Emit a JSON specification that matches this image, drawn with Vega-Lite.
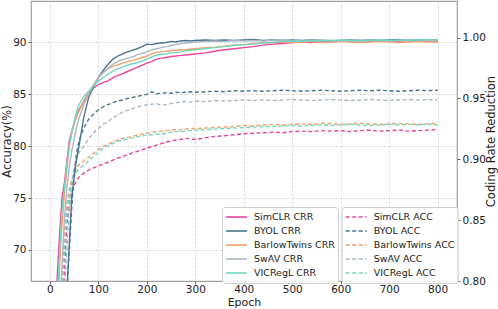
{
"$schema": "https://vega.github.io/schema/vega-lite/v6.json",
"width": 426, "height": 280,
"autosize": {"type": "none"},
"padding": {"left": 31, "top": 1, "right": 41, "bottom": 28},
"config": {
 "font": "DejaVu Sans",
 "view": {"stroke": "#a0a0a0", "strokeWidth": 1.2},
 "axis": {"labelFont": "DejaVu Sans", "labelFontSize": 10.5, "labelColor": "#222222", "titleFont": "DejaVu Sans", "titleFontSize": 11.5, "titleFontWeight": "normal", "titleColor": "#222222", "tickColor": "#666666", "tickSize": 3, "labelPadding": 2, "domain": false, "gridColor": "#cccccc", "gridDash": [2, 2], "gridWidth": 0.8},
 "legend": {"labelFont": "DejaVu Sans", "labelFontSize": 9.5, "labelColor": "#222222", "symbolType": "stroke", "symbolSize": 441, "symbolStrokeWidth": 1.6, "fillColor": "rgba(255,255,255,0.85)", "strokeColor": "#d0d0d0", "cornerRadius": 3, "padding": 3, "rowPadding": 0, "clipHeight": 14, "labelOffset": 6}
},
"datasets": {
"crr": [
{"e":1,"SimCLR":0.6126,"BYOL":0.5700,"BarlowTwins":0.6041,"SwAV":0.5870,"VICRegL":0.6041},
{"e":10,"SimCLR":0.7404,"BYOL":0.6381,"BarlowTwins":0.6893,"SwAV":0.6722,"VICRegL":0.7063},
{"e":15,"SimCLR":0.8026,"BYOL":0.6722,"BarlowTwins":0.7574,"SwAV":0.7233,"VICRegL":0.7744},
{"e":20,"SimCLR":0.8383,"BYOL":0.6978,"BarlowTwins":0.8128,"SwAV":0.7744,"VICRegL":0.8256},
{"e":25,"SimCLR":0.8681,"BYOL":0.7233,"BarlowTwins":0.8469,"SwAV":0.8128,"VICRegL":0.8579},
{"e":30,"SimCLR":0.8809,"BYOL":0.7574,"BarlowTwins":0.8724,"SwAV":0.8511,"VICRegL":0.8767},
{"e":35,"SimCLR":0.8980,"BYOL":0.7915,"BarlowTwins":0.8920,"SwAV":0.8767,"VICRegL":0.8954},
{"e":40,"SimCLR":0.9150,"BYOL":0.8298,"BarlowTwins":0.9107,"SwAV":0.8937,"VICRegL":0.9107},
{"e":45,"SimCLR":0.9227,"BYOL":0.8681,"BarlowTwins":0.9218,"SwAV":0.9065,"VICRegL":0.9218},
{"e":50,"SimCLR":0.9295,"BYOL":0.8852,"BarlowTwins":0.9295,"SwAV":0.9167,"VICRegL":0.9312},
{"e":55,"SimCLR":0.9354,"BYOL":0.8997,"BarlowTwins":0.9354,"SwAV":0.9261,"VICRegL":0.9389},
{"e":60,"SimCLR":0.9406,"BYOL":0.9107,"BarlowTwins":0.9397,"SwAV":0.9337,"VICRegL":0.9448},
{"e":70,"SimCLR":0.9474,"BYOL":0.9346,"BarlowTwins":0.9482,"SwAV":0.9448,"VICRegL":0.9516},
{"e":80,"SimCLR":0.9533,"BYOL":0.9508,"BarlowTwins":0.9550,"SwAV":0.9533,"VICRegL":0.9559},
{"e":90,"SimCLR":0.9584,"BYOL":0.9593,"BarlowTwins":0.9610,"SwAV":0.9610,"VICRegL":0.9601},
{"e":100,"SimCLR":0.9614,"BYOL":0.9670,"BarlowTwins":0.9670,"SwAV":0.9670,"VICRegL":0.9644},
{"e":110,"SimCLR":0.9631,"BYOL":0.9729,"BarlowTwins":0.9712,"SwAV":0.9712,"VICRegL":0.9670},
{"e":120,"SimCLR":0.9644,"BYOL":0.9780,"BarlowTwins":0.9746,"SwAV":0.9746,"VICRegL":0.9699},
{"e":130,"SimCLR":0.9670,"BYOL":0.9823,"BarlowTwins":0.9763,"SwAV":0.9780,"VICRegL":0.9721},
{"e":140,"SimCLR":0.9687,"BYOL":0.9848,"BarlowTwins":0.9776,"SwAV":0.9806,"VICRegL":0.9742},
{"e":150,"SimCLR":0.9704,"BYOL":0.9865,"BarlowTwins":0.9789,"SwAV":0.9819,"VICRegL":0.9759},
{"e":160,"SimCLR":0.9721,"BYOL":0.9882,"BarlowTwins":0.9802,"SwAV":0.9831,"VICRegL":0.9772},
{"e":170,"SimCLR":0.9738,"BYOL":0.9895,"BarlowTwins":0.9810,"SwAV":0.9840,"VICRegL":0.9785},
{"e":180,"SimCLR":0.9755,"BYOL":0.9908,"BarlowTwins":0.9823,"SwAV":0.9857,"VICRegL":0.9793},
{"e":190,"SimCLR":0.9772,"BYOL":0.9925,"BarlowTwins":0.9836,"SwAV":0.9870,"VICRegL":0.9806},
{"e":200,"SimCLR":0.9789,"BYOL":0.9946,"BarlowTwins":0.9848,"SwAV":0.9882,"VICRegL":0.9823},
{"e":210,"SimCLR":0.9802,"BYOL":0.9942,"BarlowTwins":0.9865,"SwAV":0.9899,"VICRegL":0.9840},
{"e":220,"SimCLR":0.9823,"BYOL":0.9951,"BarlowTwins":0.9878,"SwAV":0.9908,"VICRegL":0.9857},
{"e":230,"SimCLR":0.9831,"BYOL":0.9955,"BarlowTwins":0.9882,"SwAV":0.9917,"VICRegL":0.9861},
{"e":240,"SimCLR":0.9836,"BYOL":0.9959,"BarlowTwins":0.9887,"SwAV":0.9925,"VICRegL":0.9865},
{"e":250,"SimCLR":0.9844,"BYOL":0.9968,"BarlowTwins":0.9891,"SwAV":0.9934,"VICRegL":0.9874},
{"e":260,"SimCLR":0.9848,"BYOL":0.9963,"BarlowTwins":0.9895,"SwAV":0.9942,"VICRegL":0.9878},
{"e":270,"SimCLR":0.9853,"BYOL":0.9972,"BarlowTwins":0.9899,"SwAV":0.9951,"VICRegL":0.9882},
{"e":280,"SimCLR":0.9857,"BYOL":0.9976,"BarlowTwins":0.9899,"SwAV":0.9955,"VICRegL":0.9891},
{"e":290,"SimCLR":0.9861,"BYOL":0.9972,"BarlowTwins":0.9904,"SwAV":0.9959,"VICRegL":0.9895},
{"e":300,"SimCLR":0.9865,"BYOL":0.9976,"BarlowTwins":0.9908,"SwAV":0.9963,"VICRegL":0.9899},
{"e":320,"SimCLR":0.9874,"BYOL":0.9980,"BarlowTwins":0.9917,"SwAV":0.9968,"VICRegL":0.9908},
{"e":340,"SimCLR":0.9887,"BYOL":0.9976,"BarlowTwins":0.9921,"SwAV":0.9972,"VICRegL":0.9917},
{"e":360,"SimCLR":0.9899,"BYOL":0.9980,"BarlowTwins":0.9929,"SwAV":0.9968,"VICRegL":0.9925},
{"e":380,"SimCLR":0.9908,"BYOL":0.9976,"BarlowTwins":0.9938,"SwAV":0.9976,"VICRegL":0.9934},
{"e":400,"SimCLR":0.9917,"BYOL":0.9980,"BarlowTwins":0.9942,"SwAV":0.9972,"VICRegL":0.9942},
{"e":420,"SimCLR":0.9925,"BYOL":0.9985,"BarlowTwins":0.9951,"SwAV":0.9976,"VICRegL":0.9946},
{"e":440,"SimCLR":0.9938,"BYOL":0.9976,"BarlowTwins":0.9955,"SwAV":0.9972,"VICRegL":0.9955},
{"e":460,"SimCLR":0.9946,"BYOL":0.9980,"BarlowTwins":0.9959,"SwAV":0.9976,"VICRegL":0.9959},
{"e":480,"SimCLR":0.9951,"BYOL":0.9976,"BarlowTwins":0.9963,"SwAV":0.9980,"VICRegL":0.9968},
{"e":500,"SimCLR":0.9959,"BYOL":0.9980,"BarlowTwins":0.9959,"SwAV":0.9976,"VICRegL":0.9972},
{"e":520,"SimCLR":0.9963,"BYOL":0.9976,"BarlowTwins":0.9963,"SwAV":0.9972,"VICRegL":0.9968},
{"e":540,"SimCLR":0.9959,"BYOL":0.9980,"BarlowTwins":0.9968,"SwAV":0.9976,"VICRegL":0.9976},
{"e":560,"SimCLR":0.9968,"BYOL":0.9976,"BarlowTwins":0.9959,"SwAV":0.9980,"VICRegL":0.9972},
{"e":580,"SimCLR":0.9963,"BYOL":0.9972,"BarlowTwins":0.9963,"SwAV":0.9976,"VICRegL":0.9976},
{"e":600,"SimCLR":0.9972,"BYOL":0.9976,"BarlowTwins":0.9968,"SwAV":0.9972,"VICRegL":0.9980},
{"e":620,"SimCLR":0.9968,"BYOL":0.9980,"BarlowTwins":0.9963,"SwAV":0.9976,"VICRegL":0.9976},
{"e":640,"SimCLR":0.9976,"BYOL":0.9976,"BarlowTwins":0.9959,"SwAV":0.9976,"VICRegL":0.9972},
{"e":660,"SimCLR":0.9968,"BYOL":0.9980,"BarlowTwins":0.9963,"SwAV":0.9980,"VICRegL":0.9976},
{"e":680,"SimCLR":0.9972,"BYOL":0.9976,"BarlowTwins":0.9968,"SwAV":0.9976,"VICRegL":0.9980},
{"e":700,"SimCLR":0.9976,"BYOL":0.9980,"BarlowTwins":0.9963,"SwAV":0.9972,"VICRegL":0.9976},
{"e":720,"SimCLR":0.9968,"BYOL":0.9985,"BarlowTwins":0.9959,"SwAV":0.9976,"VICRegL":0.9980},
{"e":740,"SimCLR":0.9976,"BYOL":0.9976,"BarlowTwins":0.9963,"SwAV":0.9980,"VICRegL":0.9976},
{"e":760,"SimCLR":0.9972,"BYOL":0.9980,"BarlowTwins":0.9968,"SwAV":0.9976,"VICRegL":0.9980},
{"e":780,"SimCLR":0.9976,"BYOL":0.9976,"BarlowTwins":0.9963,"SwAV":0.9976,"VICRegL":0.9985},
{"e":800,"SimCLR":0.9972,"BYOL":0.9976,"BarlowTwins":0.9963,"SwAV":0.9980,"VICRegL":0.9980}
],
"acc": [
{"e":1,"SimCLR":40,"BYOL":35,"BarlowTwins":40,"SwAV":38,"VICRegL":40},
{"e":10,"SimCLR":50,"BYOL":42,"BarlowTwins":48,"SwAV":45,"VICRegL":48},
{"e":15,"SimCLR":55,"BYOL":47,"BarlowTwins":55,"SwAV":50,"VICRegL":54},
{"e":20,"SimCLR":59,"BYOL":52,"BarlowTwins":62,"SwAV":56,"VICRegL":61},
{"e":25,"SimCLR":63,"BYOL":57,"BarlowTwins":67,"SwAV":62,"VICRegL":65.5},
{"e":30,"SimCLR":68,"BYOL":62,"BarlowTwins":71.5,"SwAV":66,"VICRegL":70},
{"e":35,"SimCLR":72.5,"BYOL":66,"BarlowTwins":74.5,"SwAV":70,"VICRegL":73.5},
{"e":40,"SimCLR":74.5,"BYOL":70,"BarlowTwins":75.8,"SwAV":74,"VICRegL":75.2},
{"e":45,"SimCLR":75.5,"BYOL":74,"BarlowTwins":76.8,"SwAV":76.5,"VICRegL":76.3},
{"e":50,"SimCLR":76.2,"BYOL":77.5,"BarlowTwins":77.4,"SwAV":77.8,"VICRegL":77.0},
{"e":55,"SimCLR":76.7,"BYOL":79.3,"BarlowTwins":77.9,"SwAV":78.8,"VICRegL":77.5},
{"e":60,"SimCLR":77.0,"BYOL":80.5,"BarlowTwins":78.2,"SwAV":79.4,"VICRegL":77.8},
{"e":70,"SimCLR":77.4,"BYOL":81.8,"BarlowTwins":78.6,"SwAV":80.0,"VICRegL":78.2},
{"e":80,"SimCLR":77.7,"BYOL":82.6,"BarlowTwins":78.9,"SwAV":80.7,"VICRegL":78.6},
{"e":90,"SimCLR":77.9,"BYOL":83.1,"BarlowTwins":79.3,"SwAV":81.3,"VICRegL":79.0},
{"e":100,"SimCLR":78.1,"BYOL":83.5,"BarlowTwins":79.7,"SwAV":81.7,"VICRegL":79.4},
{"e":110,"SimCLR":78.3,"BYOL":83.8,"BarlowTwins":80.0,"SwAV":82.1,"VICRegL":79.8},
{"e":120,"SimCLR":78.45,"BYOL":84.0,"BarlowTwins":80.2,"SwAV":82.4,"VICRegL":80.05},
{"e":130,"SimCLR":78.65,"BYOL":84.2,"BarlowTwins":80.4,"SwAV":82.75,"VICRegL":80.25},
{"e":140,"SimCLR":78.85,"BYOL":84.35,"BarlowTwins":80.6,"SwAV":83.0,"VICRegL":80.45},
{"e":150,"SimCLR":79.0,"BYOL":84.45,"BarlowTwins":80.75,"SwAV":83.3,"VICRegL":80.6},
{"e":160,"SimCLR":79.15,"BYOL":84.6,"BarlowTwins":80.85,"SwAV":83.45,"VICRegL":80.7},
{"e":170,"SimCLR":79.35,"BYOL":84.7,"BarlowTwins":80.95,"SwAV":83.6,"VICRegL":80.8},
{"e":180,"SimCLR":79.5,"BYOL":84.8,"BarlowTwins":81.05,"SwAV":83.8,"VICRegL":80.9},
{"e":190,"SimCLR":79.65,"BYOL":84.9,"BarlowTwins":81.15,"SwAV":83.9,"VICRegL":81.0},
{"e":200,"SimCLR":79.8,"BYOL":85.0,"BarlowTwins":81.25,"SwAV":84.0,"VICRegL":81.05},
{"e":210,"SimCLR":79.95,"BYOL":85.25,"BarlowTwins":81.3,"SwAV":84.05,"VICRegL":81.1},
{"e":220,"SimCLR":80.1,"BYOL":85.05,"BarlowTwins":81.4,"SwAV":84.1,"VICRegL":81.15},
{"e":230,"SimCLR":80.25,"BYOL":85.1,"BarlowTwins":81.45,"SwAV":83.95,"VICRegL":81.2},
{"e":240,"SimCLR":80.4,"BYOL":85.15,"BarlowTwins":81.5,"SwAV":84.0,"VICRegL":81.25},
{"e":250,"SimCLR":80.5,"BYOL":85.1,"BarlowTwins":81.55,"SwAV":84.1,"VICRegL":81.35},
{"e":260,"SimCLR":80.6,"BYOL":85.2,"BarlowTwins":81.6,"SwAV":84.2,"VICRegL":81.4},
{"e":270,"SimCLR":80.65,"BYOL":85.15,"BarlowTwins":81.55,"SwAV":84.25,"VICRegL":81.4},
{"e":280,"SimCLR":80.75,"BYOL":85.2,"BarlowTwins":81.65,"SwAV":84.3,"VICRegL":81.45},
{"e":290,"SimCLR":80.7,"BYOL":85.25,"BarlowTwins":81.7,"SwAV":84.25,"VICRegL":81.5},
{"e":300,"SimCLR":80.65,"BYOL":85.2,"BarlowTwins":81.7,"SwAV":84.35,"VICRegL":81.55},
{"e":320,"SimCLR":80.8,"BYOL":85.25,"BarlowTwins":81.75,"SwAV":84.3,"VICRegL":81.6},
{"e":340,"SimCLR":80.95,"BYOL":85.3,"BarlowTwins":81.8,"SwAV":84.4,"VICRegL":81.65},
{"e":360,"SimCLR":81.0,"BYOL":85.25,"BarlowTwins":81.85,"SwAV":84.35,"VICRegL":81.7},
{"e":380,"SimCLR":81.1,"BYOL":85.35,"BarlowTwins":81.9,"SwAV":84.4,"VICRegL":81.75},
{"e":400,"SimCLR":81.2,"BYOL":85.3,"BarlowTwins":82.0,"SwAV":84.45,"VICRegL":81.8},
{"e":420,"SimCLR":81.25,"BYOL":85.35,"BarlowTwins":81.95,"SwAV":84.4,"VICRegL":81.85},
{"e":440,"SimCLR":81.3,"BYOL":85.3,"BarlowTwins":82.05,"SwAV":84.45,"VICRegL":81.9},
{"e":460,"SimCLR":81.35,"BYOL":85.35,"BarlowTwins":82.1,"SwAV":84.4,"VICRegL":81.9},
{"e":480,"SimCLR":81.3,"BYOL":85.4,"BarlowTwins":82.05,"SwAV":84.45,"VICRegL":81.95},
{"e":500,"SimCLR":81.4,"BYOL":85.35,"BarlowTwins":82.1,"SwAV":84.5,"VICRegL":82.0},
{"e":520,"SimCLR":81.45,"BYOL":85.3,"BarlowTwins":82.15,"SwAV":84.45,"VICRegL":81.95},
{"e":540,"SimCLR":81.4,"BYOL":85.35,"BarlowTwins":82.1,"SwAV":84.4,"VICRegL":82.0},
{"e":560,"SimCLR":81.5,"BYOL":85.4,"BarlowTwins":82.2,"SwAV":84.45,"VICRegL":82.05},
{"e":580,"SimCLR":81.45,"BYOL":85.35,"BarlowTwins":82.15,"SwAV":84.5,"VICRegL":82.0},
{"e":600,"SimCLR":81.5,"BYOL":85.3,"BarlowTwins":82.1,"SwAV":84.45,"VICRegL":82.05},
{"e":620,"SimCLR":81.4,"BYOL":85.35,"BarlowTwins":82.15,"SwAV":84.4,"VICRegL":82.1},
{"e":640,"SimCLR":81.5,"BYOL":85.4,"BarlowTwins":82.2,"SwAV":84.45,"VICRegL":82.05},
{"e":660,"SimCLR":81.55,"BYOL":85.35,"BarlowTwins":82.15,"SwAV":84.5,"VICRegL":82.0},
{"e":680,"SimCLR":81.45,"BYOL":85.4,"BarlowTwins":82.1,"SwAV":84.45,"VICRegL":82.05},
{"e":700,"SimCLR":81.5,"BYOL":85.35,"BarlowTwins":82.15,"SwAV":84.4,"VICRegL":82.1},
{"e":720,"SimCLR":81.55,"BYOL":85.3,"BarlowTwins":82.2,"SwAV":84.45,"VICRegL":82.05},
{"e":740,"SimCLR":81.45,"BYOL":85.35,"BarlowTwins":82.15,"SwAV":84.5,"VICRegL":82.1},
{"e":760,"SimCLR":81.5,"BYOL":85.4,"BarlowTwins":82.1,"SwAV":84.45,"VICRegL":82.05},
{"e":780,"SimCLR":81.55,"BYOL":85.35,"BarlowTwins":82.15,"SwAV":84.5,"VICRegL":82.1},
{"e":800,"SimCLR":81.6,"BYOL":85.4,"BarlowTwins":82.2,"SwAV":84.45,"VICRegL":82.05}
]
},
"layer": [
 {
  "data": {"name": "acc"},
  "transform": [{"fold": ["SimCLR", "BYOL", "BarlowTwins", "SwAV", "VICRegL"], "as": ["method", "acc"]}],
  "mark": {"type": "line", "strokeDash": [4, 2.5], "strokeWidth": 1.4, "clip": true},
  "encoding": {
   "x": {"field": "e", "type": "quantitative", "scale": {"domain": [-39, 840], "nice": false, "zero": false}, "axis": {"values": [0, 100, 200, 300, 400, 500, 600, 700, 800], "title": "Epoch", "grid": true, "labelPadding": 0, "titleFontSize": 11, "titleX": 213, "titleY": 21.5, "titleAlign": "center", "titleBaseline": "middle"}},
   "y": {"field": "acc", "type": "quantitative", "scale": {"domain": [67, 94], "nice": false, "zero": false}, "axis": {"orient": "left", "values": [70, 75, 80, 85, 90], "title": "Accuracy(%)", "grid": true, "titleX": -24, "titleY": 140, "titleAngle": 270, "titleAlign": "center", "titleBaseline": "middle"}},
   "color": {"field": "method", "type": "nominal", "scale": {"domain": ["SimCLR", "BYOL", "BarlowTwins", "SwAV", "VICRegL"], "range": ["#e8459b", "#4a7591", "#f0a06a", "#aab8c6", "#72d6c2"]}, "legend": {"orient": "none", "legendX": 310.7, "legendY": 206, "title": null, "labelExpr": "datum.label + ' ACC'", "symbolDash": [4, 2.5]}}
  }
 },
 {
  "data": {"name": "crr"},
  "transform": [{"fold": ["SimCLR", "BYOL", "BarlowTwins", "SwAV", "VICRegL"], "as": ["method", "crr"]}],
  "mark": {"type": "line", "strokeWidth": 1.4, "clip": true},
  "encoding": {
   "x": {"field": "e", "type": "quantitative", "scale": {"domain": [-39, 840], "nice": false, "zero": false}},
   "y": {"field": "crr", "type": "quantitative", "scale": {"domain": [0.8, 1.03], "nice": false, "zero": false}, "axis": {"orient": "right", "values": [0.8, 0.85, 0.9, 0.95, 1.0], "format": ".2f", "title": "Coding Rate Reduction", "grid": false, "titleX": 34, "titleY": 140, "titleAngle": 270, "titleAlign": "center", "titleBaseline": "middle"}},
   "color": {"field": "method", "type": "nominal", "scale": {"domain": ["SimCLR", "BYOL", "BarlowTwins", "SwAV", "VICRegL"], "range": ["#e8459b", "#4a7591", "#f0a06a", "#aab8c6", "#72d6c2"]}, "legend": {"orient": "none", "legendX": 191, "legendY": 206, "title": null, "labelExpr": "datum.label + ' CRR'"}}
  }
 }
],
"resolve": {"scale": {"y": "independent", "color": "independent"}}
}
